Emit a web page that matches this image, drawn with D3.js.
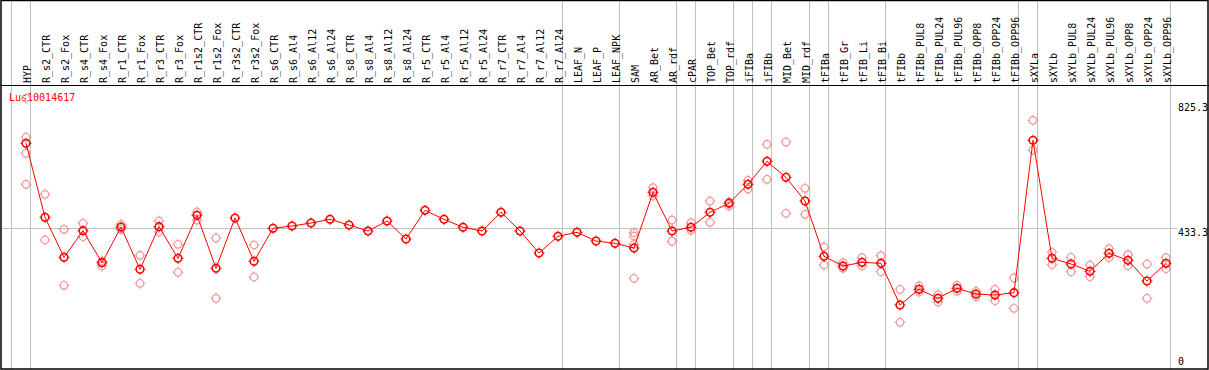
<!DOCTYPE html>
<html>
<head>
<meta charset="utf-8">
<script src="https://cdn.jsdelivr.net/npm/d3@7"></script>
<style>
  body { margin: 0; background: #fff; }
  text { font-family: "DejaVu Sans Mono", monospace; font-size: 10px; }
</style>
</head>
<body>
<svg id="chart" width="1209" height="370"></svg>
<script>
// sample names (one column each)
const samples = ['HYP','R_s2_CTR','R_s2_Fox','R_s4_CTR','R_s4_Fox','R_r1_CTR','R_r1_Fox','R_r3_CTR','R_r3_Fox',
    'R_r1s2_CTR','R_r1s2_Fox','R_r3s2_CTR','R_r3s2_Fox','R_s6_CTR','R_s6_Al4','R_s6_Al12','R_s6_Al24',
    'R_s8_CTR','R_s8_Al4','R_s8_Al12','R_s8_Al24','R_r5_CTR','R_r5_Al4','R_r5_Al12','R_r5_Al24',
    'R_r7_CTR','R_r7_Al4','R_r7_Al12','R_r7_Al24','LEAF_N','LEAF_P','LEAF_NPK','SAM','AR_Bet','AR_rdf',
    'cPAR','TOP_Bet','TOP_rdf','iFIBa','iFIBb','MID_Bet','MID_rdf','tFIBa','tFIB_Gr','tFIB_Li','tFIB_Bi',
    'tFIBb','tFIBb_PUL8','tFIBb_PUL24','tFIBb_PUL96','tFIBb_OPP8','tFIBb_OPP24','tFIBb_OPP96',
    'sXYLa','sXYLb','sXYLb_PUL8','sXYLb_PUL24','sXYLb_PUL96','sXYLb_OPP8','sXYLb_OPP24','sXYLb_OPP96'];

// mean expression per sample
const means = [698.8, 466.6, 341.1, 424.5, 324.1, 436.1, 303.4, 437.1, 337.9,
    472.9, 306.6, 464.4, 328.5, 432.1, 439.3, 448.7, 460.3,
    442.4, 423.6, 455.0, 398.5, 488.5, 460.3, 435.2, 423.6,
    482.3, 423.6, 354.6, 407.0, 419.5, 392.2, 385.0, 370.2, 545.0, 423.6,
    435.2, 482.3, 510.5, 570.1, 642.3, 592.1, 517.7, 344.2, 313.8, 325.4, 322.2,
    191.4, 240.7, 212.4, 243.8, 225.9, 222.8, 230.0,
    708.2, 337.9, 320.0, 297.1, 353.6, 331.7, 266.7, 322.2];

// individual replicates per sample
const replicates = [
    [840.5, 717.6, 667.4, 570.1], [538.7, 395.4], [428.9, 253.2], [447.8, 405.7], [328.5, 313.8],
    [444.6, 428.9], [347.3, 259.5], [455.0, 420.5], [381.9, 294.0], [483.2, 458.1],
    [401.6, 212.4], [], [379.7, 279.3], [], [], [], [], [], [], [], [], [], [], [], [],
    [], [], [], [], [], [], [], [418.3, 407.9, 381.9, 275.2], [559.5, 534.3], [458.1, 391.3],
    [449.6, 425.8], [517.7, 450.9], [514.6, 502.0], [582.7, 555.4], [695.6, 585.8], [702.8, 479.1],
    [557.6, 476.0], [373.4, 316.9], [324.1, 306.6], [339.8, 313.8], [346.1, 295.9],
    [240.7, 137.1], [251.0, 232.2], [223.7, 200.8], [253.2, 234.4], [234.4, 217.4], [240.7, 204.9],
    [276.1, 181.0], [770.9, 677.7], [356.8, 317.9], [341.1, 295.9], [316.9, 280.2], [368.1, 339.8],
    [349.2, 314.7], [320.0, 212.4], [339.8, 305.3]
];

// first sample of each group (a grey separator is drawn on its left)
const groupStarts = ['HYP','R_s2_CTR','LEAF_N','SAM','cPAR','TOP_Bet','iFIBa','iFIBb','MID_Bet',
    'tFIBa','tFIB_Gr','tFIBb','sXYLa','sXYLb'];

const yTicks = [0, 433.3, 825.3];
const gridTicks = [433.3];
const title = 'Lus10014617';

const W = 1209, H = 370;
const svg = d3.select('#chart');

const x = d3.scaleBand().domain(samples).range([11, 1170]).padding(0);
const y = d3.scaleLinear().domain([0, 825.3]).range([366, 103]);
const px = d => x(d) + 15;

// grid line
svg.append('g').selectAll('line').data(gridTicks).enter().append('line')
    .attr('x1', 2).attr('x2', 1177)
    .attr('y1', d => Math.round(y(d)) + 0.5).attr('y2', d => Math.round(y(d)) + 0.5)
    .attr('stroke', '#c0c0c0').attr('stroke-width', 1);

// group separators
const seps = groupStarts.map(s => x(s)).concat([x.range()[1]]);
svg.append('g').selectAll('line').data(seps).enter().append('line')
    .attr('x1', d => d + 0.5).attr('x2', d => d + 0.5)
    .attr('y1', 0).attr('y2', H)
    .attr('stroke', '#c0c0c0').attr('stroke-width', 1);

// header separator and frame
svg.append('line').attr('x1', 0).attr('x2', W).attr('y1', 85.5).attr('y2', 85.5)
    .attr('stroke', '#000').attr('stroke-width', 1);
svg.append('rect').attr('x', 1).attr('y', 0.5).attr('width', W - 2).attr('height', H - 1.5)
    .attr('fill', 'none').attr('stroke', '#000').attr('stroke-width', 1.5);

// sample labels
svg.append('g').selectAll('text').data(samples).enter().append('text')
    .attr('transform', d => `translate(${x(d) + 19.5},83) rotate(-90)`)
    .attr('fill', '#000')
    .text(d => d);

// title
svg.append('text').attr('x', 9).attr('y', 100.5).attr('fill', '#ff0000').text(title);

// y labels
svg.append('g').selectAll('text').data(yTicks).enter().append('text')
    .attr('x', 1178).attr('y', d => Math.min(y(d) + 8, 364.5))
    .attr('fill', '#000')
    .text(d => d);

// marker shape: circle with small ticks
function marker(sel, color, sw) {
    sel.append('circle').attr('r', 3.8).attr('fill', 'none')
        .attr('stroke', color).attr('stroke-width', sw);
    sel.append('path').attr('d', 'M0,-5.5V-4M0,4V5.5M-5.5,0H-4M4,0H5.5')
        .attr('stroke', color).attr('stroke-width', 1);
}

// replicates
const repPts = [];
replicates.forEach((r, i) => r.forEach(v => repPts.push({s: samples[i], v})));
svg.append('g').selectAll('g').data(repPts).enter().append('g')
    .attr('transform', d => `translate(${px(d.s)},${y(d.v)})`)
    .call(g => marker(g, '#ee9999', 1.2));

// mean line
const line = d3.line().x((d, i) => px(samples[i])).y(d => y(d));
svg.append('path').datum(means).attr('d', line)
    .attr('fill', 'none').attr('stroke', '#ff0000').attr('stroke-width', 1);

// mean markers
svg.append('g').selectAll('g').data(means).enter().append('g')
    .attr('transform', (d, i) => `translate(${px(samples[i])},${y(d)})`)
    .call(g => marker(g, '#ff0000', 1.6));
</script>
</body>
</html>
